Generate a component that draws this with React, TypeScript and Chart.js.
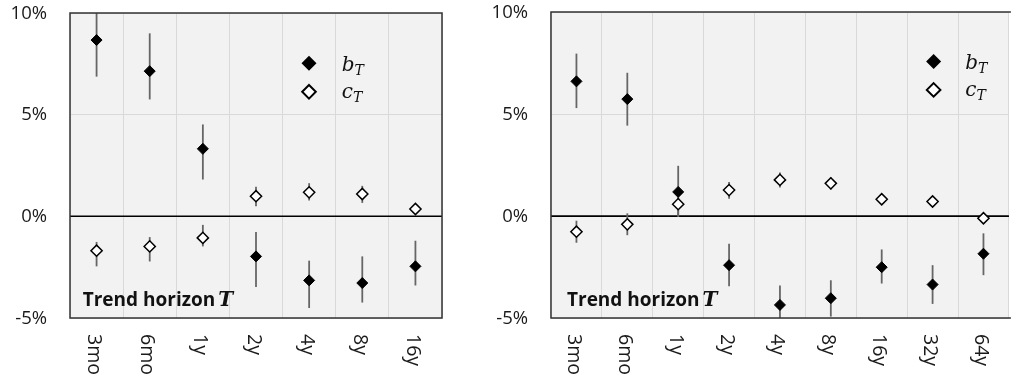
import React, { useEffect, useRef } from 'react';
import { Chart, registerables } from 'chart.js';

Chart.register(...registerables);

// ---------- data ----------
const leftCategories = ['3mo', '6mo', '1y', '2y', '4y', '8y', '16y'];
const leftB = [8.67, 7.14, 3.32, -1.97, -3.15, -3.28, -2.46];
const leftBHigh = [10.47, 9.0, 4.52, -0.77, -2.18, -1.97, -1.2];
const leftBLow = [6.87, 5.75, 1.81, -3.48, -4.51, -4.24, -3.4];
const leftC = [-1.69, -1.48, -1.06, 0.99, 1.18, 1.1, 0.36];
const leftCHigh = [-1.26, -1.02, -0.42, 1.45, 1.63, 1.5, 0.55];
const leftCLow = [-2.46, -2.22, -1.48, 0.49, 0.78, 0.66, 0.2];

const rightCategories = ['3mo', '6mo', '1y', '2y', '4y', '8y', '16y', '32y', '64y'];
const rightB = [6.6, 5.73, 1.18, -2.41, -4.36, -4.03, -2.51, -3.36, -1.85];
const rightBHigh = [7.96, 7.02, 2.46, -1.36, -3.41, -3.15, -1.64, -2.41, -0.85];
const rightBLow = [5.29, 4.43, -0.05, -3.44, -5.3, -4.93, -3.31, -4.31, -2.9];
const rightC = [-0.77, -0.41, 0.58, 1.27, 1.77, 1.6, 0.82, 0.71, -0.11];
const rightCHigh = [-0.23, 0.13, 0.9, 1.67, 2.13, 1.9, 1.0, 0.9, 0.1];
const rightCLow = [-1.31, -0.94, 0.0, 0.85, 1.4, 1.3, 0.65, 0.55, -0.3];

const yTicks = [-5, 0, 5, 10];
const trendLabel = 'Trend horizon';
const trendSymbol = 'T';
const legendSymbols = ['b', 'c'];
const legendSub = 'T';

type PanelProps = {
  left: number;
  width: number;
  categories: string[];
  b: number[];
  bHigh: number[];
  bLow: number[];
  c: number[];
  cHigh: number[];
  cLow: number[];
  axisWidth: number;
  padTop: number;
  padRight: number;
  drawRightBorder: boolean;
  trendDx: number;
  legendDx: number;
  legendTextDx: number;
  legendDy: number;
};

function diamond(ctx: CanvasRenderingContext2D, x: number, y: number, r: number) {
  ctx.beginPath();
  ctx.moveTo(x, y - r);
  ctx.lineTo(x + r, y);
  ctx.lineTo(x, y + r);
  ctx.lineTo(x - r, y);
  ctx.closePath();
}

function Panel(p: PanelProps) {
  const ref = useRef<HTMLCanvasElement | null>(null);
  useEffect(() => {
    if (!ref.current) return;
    const plugin = {
      id: 'custom' + p.left,
      beforeDraw(chart: any) {
        const { ctx, chartArea: a } = chart;
        ctx.save();
        ctx.fillStyle = '#f2f2f2';
        ctx.fillRect(a.left, a.top, a.right - a.left, a.bottom - a.top);
        ctx.restore();
      },
      beforeDatasetsDraw(chart: any) {
        const { ctx, chartArea: a } = chart;
        const xs = chart.scales.x;
        const ys = chart.scales.y;
        ctx.save();
        // zero line
        const y0 = ys.getPixelForValue(0);
        ctx.strokeStyle = '#000';
        ctx.lineWidth = 1.5;
        ctx.beginPath();
        ctx.moveTo(a.left, y0);
        ctx.lineTo(a.right, y0);
        ctx.stroke();
        // error bars
        ctx.beginPath();
        ctx.rect(a.left, a.top, a.right - a.left, a.bottom - a.top);
        ctx.clip();
        ctx.strokeStyle = '#666';
        ctx.lineWidth = 1.8;
        const bars = (hi: number[], lo: number[]) => {
          hi.forEach((h, i) => {
            const x = xs.getPixelForValue(i);
            ctx.beginPath();
            ctx.moveTo(x, ys.getPixelForValue(h));
            ctx.lineTo(x, ys.getPixelForValue(lo[i]));
            ctx.stroke();
          });
        };
        bars(p.bHigh, p.bLow);
        bars(p.cHigh, p.cLow);
        ctx.restore();
      },
      afterDatasetsDraw(chart: any) {
        const { ctx, chartArea: a } = chart;
        const xs = chart.scales.x;
        const ys = chart.scales.y;
        ctx.save();
        // box
        ctx.strokeStyle = '#333';
        ctx.lineWidth = 1.5;
        ctx.beginPath();
        if (p.drawRightBorder) {
          ctx.moveTo(a.right, a.top);
          ctx.lineTo(a.left, a.top);
          ctx.lineTo(a.left, a.bottom);
          ctx.lineTo(a.right, a.bottom);
          ctx.closePath();
        } else {
          ctx.moveTo(a.right + 2, a.top);
          ctx.lineTo(a.left, a.top);
          ctx.lineTo(a.left, a.bottom);
          ctx.lineTo(a.right + 2, a.bottom);
        }
        ctx.stroke();

        // y tick labels
        ctx.fillStyle = '#1a1a1a';
        ctx.font = '18.5px "Open Sans"';
        ctx.textAlign = 'right';
        ctx.textBaseline = 'middle';
        yTicks.forEach((v) => {
          ctx.fillText(v + '%', a.left - 23, ys.getPixelForValue(v) + 0.5);
        });

        // Trend horizon T
        ctx.fillStyle = '#111';
        ctx.textAlign = 'left';
        ctx.textBaseline = 'alphabetic';
        ctx.font = 'bold 19px "Open Sans"';
        const tx = a.left + p.trendDx;
        const ty = a.bottom - 12.5;
        ctx.fillText(trendLabel, tx, ty);
        const tw = ctx.measureText(trendLabel).width;
        ctx.font = 'bold italic 20px "DejaVu Serif"';
        ctx.fillText(trendSymbol, tx + tw + 3, ty);

        // legend
        const lx = a.left + p.legendDx;
        const ly1 = a.top + p.legendDy;
        const ly2 = ly1 + 28.5;
        ctx.fillStyle = '#000';
        diamond(ctx, lx, ly1, 7.5);
        ctx.fill();
        ctx.fillStyle = '#fff';
        ctx.strokeStyle = '#000';
        ctx.lineWidth = 2;
        diamond(ctx, lx, ly2, 6.8);
        ctx.fill();
        ctx.stroke();
        ctx.fillStyle = '#111';
        const txl = a.left + p.legendTextDx;
        [ly1, ly2].forEach((ly, k) => {
          ctx.font = 'italic 20px "DejaVu Serif"';
          const base = ly + 8 + (k === 1 ? -2 : 0);
          ctx.fillText(legendSymbols[k], txl, base);
          const w = ctx.measureText(legendSymbols[k]).width;
          ctx.font = 'italic 14px "DejaVu Serif"';
          ctx.fillText(legendSub, txl + w, base + 4);
        });

        // rotated x labels
        ctx.font = '19.5px "Open Sans"';
        ctx.fillStyle = '#1a1a1a';
        ctx.textBaseline = 'alphabetic';
        ctx.textAlign = 'left';
        p.categories.forEach((lab, i) => {
          const x = xs.getPixelForValue(i);
          ctx.save();
          ctx.translate(x - 8.5, a.bottom + 16);
          ctx.rotate(Math.PI / 2);
          ctx.fillText(lab, 0, 0);
          ctx.restore();
        });
        ctx.restore();
      },
    };

    const chart = new Chart(ref.current, {
      type: 'line',
      data: {
        labels: p.categories,
        datasets: [
          {
            label: 'b',
            data: p.b,
            showLine: false,
            pointStyle: 'rectRot',
            pointRadius: 5.5,
            backgroundColor: '#000',
            borderColor: '#000',
            borderWidth: 1,
          },
          {
            label: 'c',
            data: p.c,
            showLine: false,
            pointStyle: 'rectRot',
            pointRadius: 5.6,
            backgroundColor: '#fff',
            borderColor: '#000',
            borderWidth: 1.5,
          },
        ],
      },
      options: {
        responsive: false,
        animation: false,
        devicePixelRatio: 1,
        events: [],
        layout: { padding: { top: p.padTop, right: p.padRight, left: 0, bottom: 0 } },
        plugins: { legend: { display: false }, tooltip: { enabled: false } },
        scales: {
          x: {
            type: 'category',
            offset: true,
            grid: { offset: true, color: '#d9d9d9', drawTicks: false, lineWidth: 1 },
            border: { display: false },
            ticks: { display: false },
            afterFit: (s: any) => {
              s.height = 61;
            },
          },
          y: {
            min: -5,
            max: 10,
            afterBuildTicks: (s: any) => {
              s.ticks = yTicks.map((v) => ({ value: v }));
            },
            ticks: { display: false },
            grid: {
              drawTicks: false,
              color: (c: any) => (c.tick && c.tick.value === 0 ? '#000' : '#d9d9d9'),
              lineWidth: 1,
            },
            border: { display: false },
            afterFit: (s: any) => {
              s.width = p.axisWidth;
            },
          },
        },
      },
      plugins: [plugin],
    } as any);
    return () => chart.destroy();
  }, []);
  return (
    <canvas
      ref={ref}
      width={p.width}
      height={379}
      style={{ position: 'absolute', left: p.left, top: 0, width: p.width, height: 379 }}
    />
  );
}

export default function App() {
  return (
    <div style={{ position: 'absolute', left: 0, top: 0, width: 1016, height: 379, background: '#fff', overflow: 'hidden' }}>
      <Panel
        left={0}
        width={490}
        categories={leftCategories}
        b={leftB}
        bHigh={leftBHigh}
        bLow={leftBLow}
        c={leftC}
        cHigh={leftCHigh}
        cLow={leftCLow}
        axisWidth={70}
        padTop={13}
        padRight={48}
        drawRightBorder={true}
        trendDx={12.7}
        legendDx={239}
        legendTextDx={271.7}
        legendDy={50.3}
      />
      <Panel
        left={490}
        width={526}
        categories={rightCategories}
        b={rightB}
        bHigh={rightBHigh}
        bLow={rightBLow}
        c={rightC}
        cHigh={rightCHigh}
        cLow={rightCLow}
        axisWidth={61}
        padTop={12}
        padRight={0}
        drawRightBorder={false}
        trendDx={16}
        legendDx={382.6}
        legendTextDx={414.3}
        legendDy={49.4}
      />
    </div>
  );
}
